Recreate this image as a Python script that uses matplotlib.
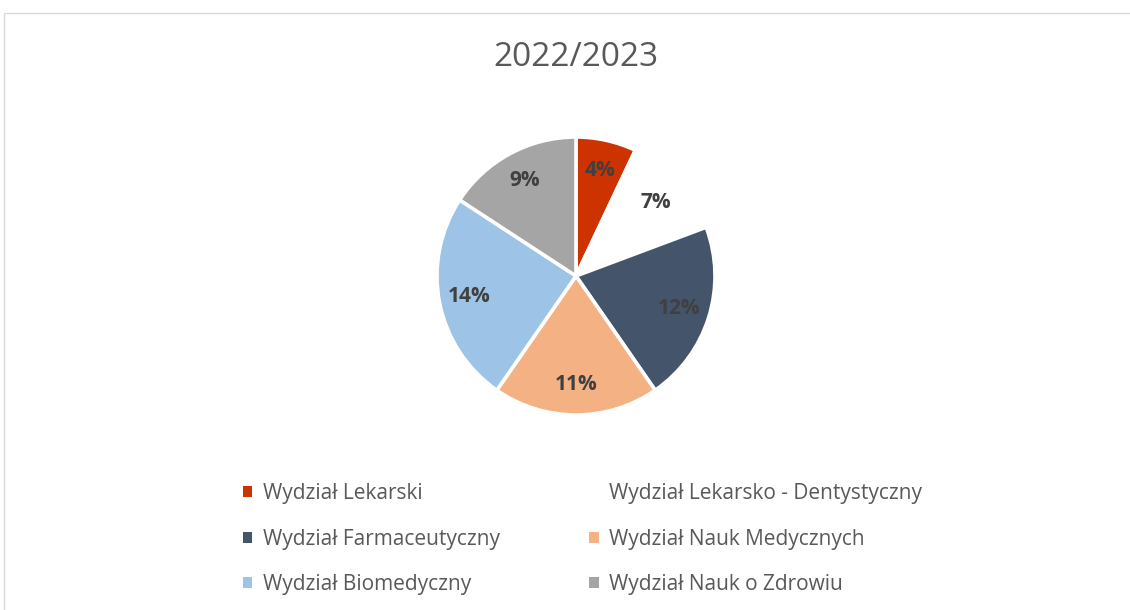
import matplotlib.pyplot as plt
from matplotlib.patches import Rectangle

# faculties and their shares (as printed on the slices)
faculties = [
    "Wydział Lekarski",
    "Wydział Lekarsko - Dentystyczny",
    "Wydział Farmaceutyczny",
    "Wydział Nauk Medycznych",
    "Wydział Biomedyczny",
    "Wydział Nauk o Zdrowiu",
]
values = [4, 7, 12, 11, 14, 9]
colors = ["#CC3300", "#FFFFFF", "#44546A", "#F4B183", "#9DC3E6", "#A5A5A5"]
title = "2022/2023"

plt.rcParams['font.family'] = ['Open Sans', 'DejaVu Sans']

W, H = 1130, 610
fig = plt.figure(figsize=(W / 100, H / 100), dpi=100)

# light grey chart border
fig.patches.append(Rectangle((4 / W, -0.1), 2, 1.1 - 13 / H, transform=fig.transFigure,
                             fill=False, edgecolor="#D9D9D9", linewidth=1.0))

# pie axes: centre (576, 276) px, radius 139 px
cx, cy, r = 576, 276, 139
ax = fig.add_axes([(cx - r) / W, 1 - (cy + r) / H, 2 * r / W, 2 * r / H])
wedges, texts = ax.pie(values, colors=colors, startangle=90, counterclock=False,
                       labels=[f"{v}%" for v in values], labeldistance=0.78,
                       wedgeprops=dict(edgecolor="white", linewidth=2.6))
for t in texts:
    t.set_ha("center")
    t.set_va("center")
    t.set_fontsize(15)
    t.set_fontweight("bold")
    t.set_color("#404040")
ax.set_xlim(-1, 1)
ax.set_ylim(-1, 1)
ax.set_aspect("equal")
ax.axis("off")

fig.text(cx / W, 1 - 58 / H, title, ha="center", va="center",
         fontsize=24, color="#595959")

# legend filled row by row
order = [0, 2, 4, 1, 3, 5]
leg = fig.legend([wedges[i] for i in order], [faculties[i] for i in order],
                 ncol=2, loc="upper left", bbox_to_anchor=(243 / W, 1 - 483 / H),
                 frameon=False, fontsize=15, handlelength=0.45, handleheight=0.45,
                 handletextpad=0.5, labelspacing=1.18, columnspacing=4.3,
                 borderpad=0, borderaxespad=0)
for t in leg.get_texts():
    t.set_color("#595959")
for h in leg.legend_handles:
    h.set_linewidth(0)

fig.savefig("out.png", dpi=100)
